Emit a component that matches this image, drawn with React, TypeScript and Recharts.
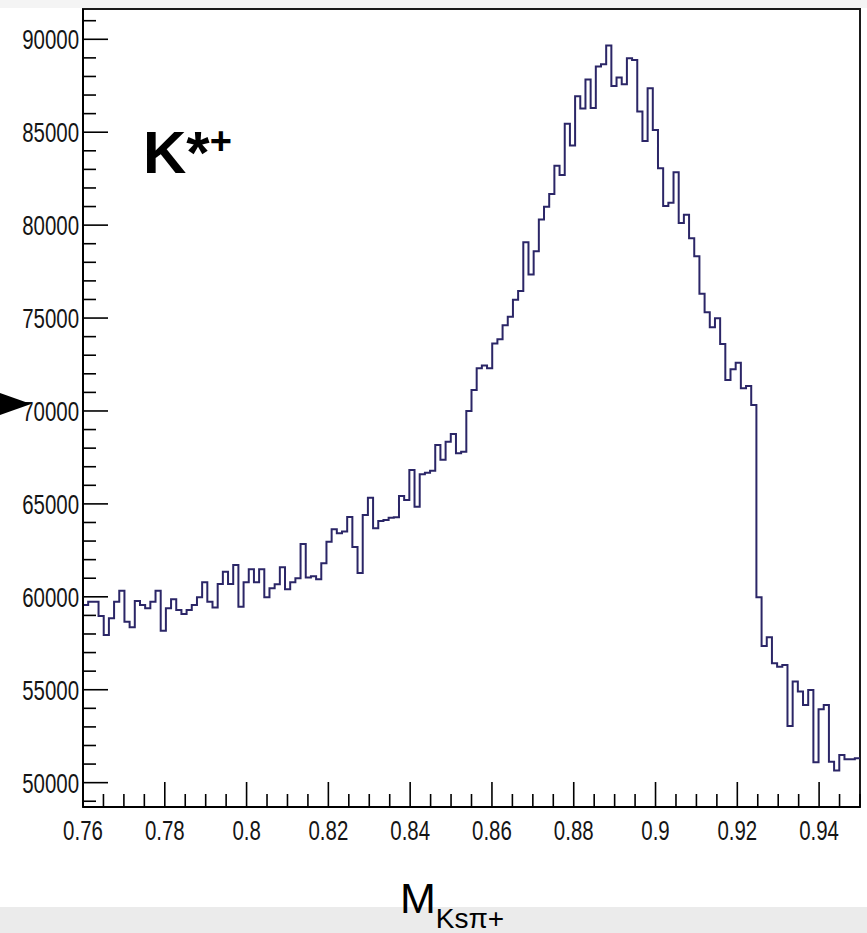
import React from "react";
import { LineChart, Line, XAxis, YAxis, ReferenceArea } from "recharts";

// Histogram range and bin contents (150 bins between 0.76 and 0.95)
const X_MIN = 0.76;
const X_MAX = 0.95;
const Y_MIN = 48690;
const Y_MAX = 91630;

const COUNTS = [
  59560, 59740, 59740, 58970, 57950, 58850, 59740, 60330, 58660, 58360,
  59780, 59560, 59380, 59740, 60330, 58180, 59380, 59870, 59290, 59080,
  59290, 59560, 59980, 60780, 59740, 59420, 60690, 61350, 60690, 61710,
  59470, 60780, 61480, 60780, 61480, 59980, 60460, 60680, 61590, 60410,
  60780, 61000, 62840, 61040, 61100, 60940, 61800, 62960, 63640, 63420,
  63520, 64300, 62680, 61280, 64400, 65330, 63690, 64080, 64140, 64260,
  64280, 65430, 65210, 66830, 64850, 66600, 66680, 66790, 68170, 67370,
  68350, 68760, 67730, 67810, 70000, 71130, 72300, 72450, 72300, 73630,
  73860, 74610, 75070, 75980, 76460, 79080, 77340, 78600, 80300, 80990,
  81680, 83190, 82700, 85450, 84290, 86940, 86270, 87830, 86300, 88540,
  88660, 89660, 87490, 87940, 87580, 88980, 88890, 86110, 84530, 87360,
  85120, 83060, 81030, 81210, 82840, 80110, 80560, 79300, 78320, 76310,
  75310, 74500, 74990, 73610, 71670, 72240, 72600, 71220, 71350, 70320,
  59980, 57360, 57820, 56430, 56240, 56330, 53050, 55440, 54900, 54180,
  54990, 51100, 53950, 54180, 51130, 50650, 51490, 51260, 51260, 51310,
];

const X_MAJOR_TICKS = [0.76, 0.78, 0.8, 0.82, 0.84, 0.86, 0.88, 0.9, 0.92, 0.94];
const X_TICK_LABELS = ["0.76", "0.78", "0.8", "0.82", "0.84", "0.86", "0.88", "0.9", "0.92", "0.94"];
const X_MINOR_TICKS = [
  0.765, 0.77, 0.775, 0.785, 0.79, 0.795, 0.805, 0.81, 0.815, 0.825, 0.83, 0.835,
  0.845, 0.85, 0.855, 0.865, 0.87, 0.875, 0.885, 0.89, 0.895, 0.905, 0.91, 0.915,
  0.925, 0.93, 0.935, 0.945, 0.95,
];

const Y_MAJOR_TICKS = [50000, 55000, 60000, 65000, 70000, 75000, 80000, 85000, 90000];
const Y_TICK_LABELS = ["50000", "55000", "60000", "65000", "70000", "75000", "80000", "85000", "90000"];
const Y_MINOR_TICKS = [
  49000, 51000, 52000, 53000, 54000, 56000, 57000, 58000, 59000, 61000, 62000, 63000, 64000,
  66000, 67000, 68000, 69000, 71000, 72000, 73000, 74000, 76000, 77000, 78000, 79000,
  81000, 82000, 83000, 84000, 86000, 87000, 88000, 89000, 91000,
];

const BIN_WIDTH = (X_MAX - X_MIN) / COUNTS.length;
const data = COUNTS.map((v, i) => ({ x: X_MIN + i * BIN_WIDTH, v }));
data.push({ x: X_MAX, v: COUNTS[COUNTS.length - 1] });

const FONT = "'Liberation Sans', Arial, Helvetica, sans-serif";

const XTick = (props: any) => {
  const { x, y, payload } = props;
  const idx = X_MAJOR_TICKS.findIndex((t) => Math.abs(t - payload.value) < 1e-6);
  const major = idx >= 0;
  return (
    <g>
      <line x1={x} x2={x} y1={y} y2={y - (major ? 25 : 13)} stroke="#000" strokeWidth={1.6} />
      {major && (
        <g transform={`translate(${x},${y + 33}) scale(0.73,1)`}>
          <text x={0} y={0} textAnchor="middle" fontSize={28} fill="#151515" fontFamily={FONT}>
            {X_TICK_LABELS[idx]}
          </text>
        </g>
      )}
    </g>
  );
};

const YTick = (props: any) => {
  const { x, y, payload } = props;
  const idx = Y_MAJOR_TICKS.indexOf(payload.value);
  const major = idx >= 0;
  return (
    <g>
      <line x1={x} x2={x + (major ? 25 : 13)} y1={y} y2={y} stroke="#000" strokeWidth={1.6} />
      {major && (
        <g transform={`translate(${x - 4},${y + 10}) scale(0.73,1)`}>
          <text x={0} y={0} textAnchor="end" fontSize={28} fill="#151515" fontFamily={FONT}>
            {Y_TICK_LABELS[idx]}
          </text>
        </g>
      )}
    </g>
  );
};

export default function App() {
  return (
    <div
      style={{
        position: "absolute",
        left: 0,
        top: 0,
        width: 867,
        height: 933,
        background: "#fff",
        overflow: "hidden",
      }}
    >
      <div style={{ position: "absolute", left: 0, top: 0, width: 867, height: 8, background: "#f4f4f4" }} />
      <div style={{ position: "absolute", left: 0, top: 907, width: 867, height: 26, background: "#ebebeb" }} />
      <div style={{ position: "absolute", left: 0, top: 0 }}>
        <LineChart width={867} height={933} data={data} margin={{ top: 9, right: 7, bottom: 0, left: 0 }}>
          <XAxis
            type="number"
            dataKey="x"
            domain={[X_MIN, X_MAX]}
            allowDataOverflow
            ticks={[...X_MAJOR_TICKS, ...X_MINOR_TICKS]}
            interval={0}
            height={126}
            tickSize={0}
            tickMargin={0}
            tickLine={false}
            tick={<XTick />}
            axisLine={{ stroke: "#000", strokeWidth: 2 }}
          />
          <YAxis
            type="number"
            domain={[Y_MIN, Y_MAX]}
            allowDataOverflow
            ticks={[...Y_MAJOR_TICKS, ...Y_MINOR_TICKS]}
            interval={0}
            width={83}
            tickSize={0}
            tickMargin={0}
            tickLine={false}
            tick={<YTick />}
            axisLine={{ stroke: "#000", strokeWidth: 2 }}
          />
          <ReferenceArea
            x1={X_MIN}
            x2={X_MAX}
            y1={Y_MIN}
            y2={Y_MAX}
            fill="none"
            fillOpacity={0}
            stroke="#1a1a1a"
            strokeWidth={2}
            strokeOpacity={1}
          />
          <Line
            type="stepAfter"
            dataKey="v"
            stroke="#2b2667"
            strokeWidth={2}
            dot={false}
            activeDot={false}
            isAnimationActive={false}
          />
        </LineChart>
      </div>
      <svg
        width={867}
        height={933}
        style={{ position: "absolute", left: 0, top: 0, pointerEvents: "none" }}
      >
        <text x={143} y={173} fontSize={60} fontWeight="bold" fill="#000" fontFamily={FONT}>
          K*
          <tspan fontSize={38} dy={-19}>
            +
          </tspan>
        </text>
        <text x={400} y={913} fontSize={43} fill="#000" fontFamily={FONT}>
          M
          <tspan fontSize={28} dy={15}>
            Ksπ+
          </tspan>
        </text>
        <polygon points="0,393 31,404 0,415" fill="#000" />
      </svg>
    </div>
  );
}
